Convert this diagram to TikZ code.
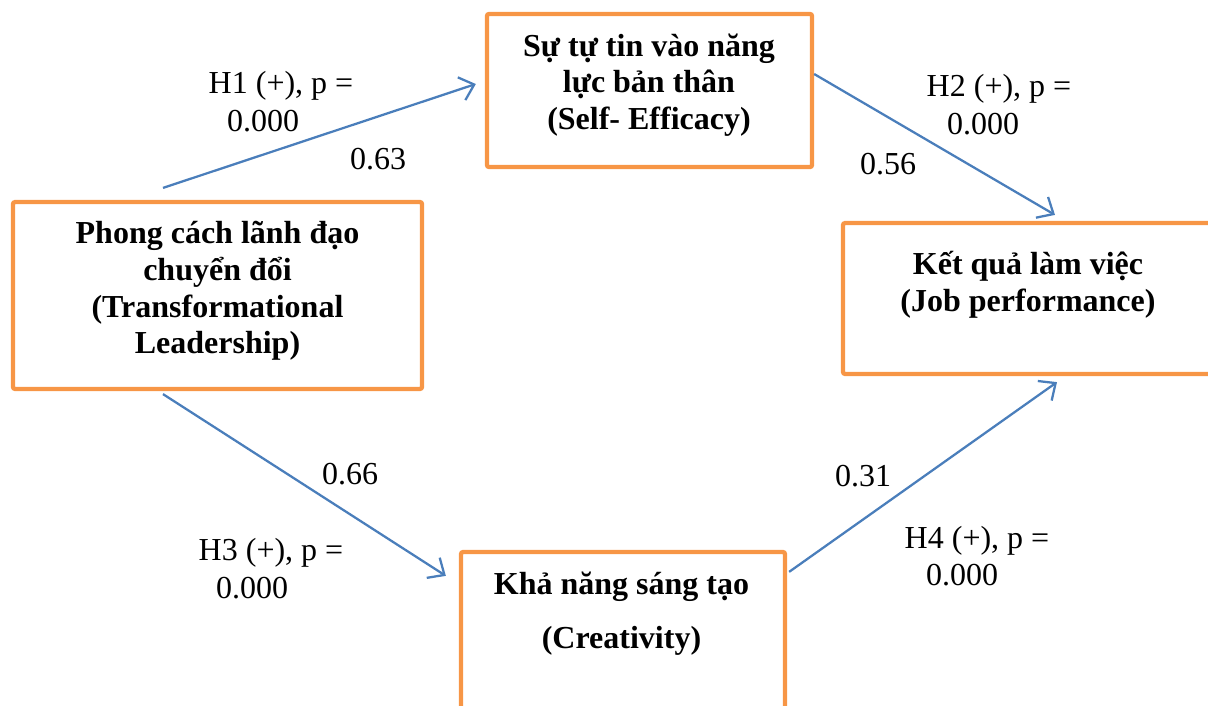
\documentclass[tikz,border=0pt]{standalone}
\usepackage{fontspec}
\setmainfont{Liberation Serif}
\usepackage{xcolor}
\usetikzlibrary{arrows.meta, calc}
\definecolor{boxorange}{HTML}{F79646}
\definecolor{linkblue}{HTML}{4A7EBB}
\tikzset{
    myarrow/.style={draw=linkblue, line width=0.85pt, -{Straight Barb[length=5pt, width=9pt, line width=0.85pt]}},
    frame/.style={draw=boxorange, line width=1.6pt, rounded corners=0.8pt, inner sep=0pt},
    boxtext/.style={font=\bfseries\fontsize{12}{13.8}\selectfont, align=center, inner sep=0pt},
    lbl/.style={font=\fontsize{12}{13.8}\selectfont, inner sep=0pt}
}

\begin{document}
\begin{tikzpicture}[x=0.375pt, y=-0.375pt]
    \useasboundingbox (0,0) rectangle (1208,705);
    \clip (0,0) rectangle (1208,705);
    % boxes
    \node (se) [frame, minimum width=121.9pt, minimum height=57.4pt] at (649.5,90.5) {};
    \node (tl) [frame, minimum width=153.4pt, minimum height=70.1pt] at (217.5,295.5) {};
    \node (job) [frame, minimum width=139.5pt, minimum height=56.6pt] at (1029,298.5) {};
    \node (cre) [frame, minimum width=121.5pt, minimum height=85.5pt] at (623,666) {};
    \node (setxt) [boxtext] at (649,85) {Sự tự tin vào năng\\lực bản thân\\(Self- Efficacy)};
    \node (tltxt) [boxtext] at (217.5,291) {Phong cách lãnh đạo\\chuyển đổi\\(Transformational\\Leadership)};
    \node (jobtxt) [boxtext] at (1028,285) {Kết quả làm việc\\(Job performance)};
    \node (cretxt) [boxtext] at (621.5,614) {Khả năng sáng tạo\\[6.5pt](Creativity)};
    % paths
    \draw [myarrow] ($(tl.north)+(-54.5,-12)$) -- ($(se.west)+(-9,-6.5)$);
    \draw [myarrow] ($(se.east)+(0,-16.5)$) -- ($(job.north)+(26,-6)$);
    \draw [myarrow] ($(tl.south)+(-54.5,3)$) -- ($(cre.north west)+(-13,26)$);
    \draw [myarrow] ($(cre.north east)+(2,22)$) -- ($(job.south)+(28,6)$);
    % labels
    \node (h1) [lbl] at (281,86) {H1 (+), p =};
    \node (p1) [lbl] at (263,121) {0.000};
    \node (w1) [lbl] at (378,159) {0.63};
    \node (h2) [lbl] at (999,89) {H2 (+), p =};
    \node (p2) [lbl] at (983,124) {0.000};
    \node (w2) [lbl] at (888,164) {0.56};
    \node (w3) [lbl] at (350,474) {0.66};
    \node (h3) [lbl] at (271,553) {H3 (+), p =};
    \node (p3) [lbl] at (252,588) {0.000};
    \node (w4) [lbl] at (863,476) {0.31};
    \node (h4) [lbl] at (977,541) {H4 (+), p =};
    \node (p4) [lbl] at (962,575) {0.000};
\end{tikzpicture}
\end{document}
